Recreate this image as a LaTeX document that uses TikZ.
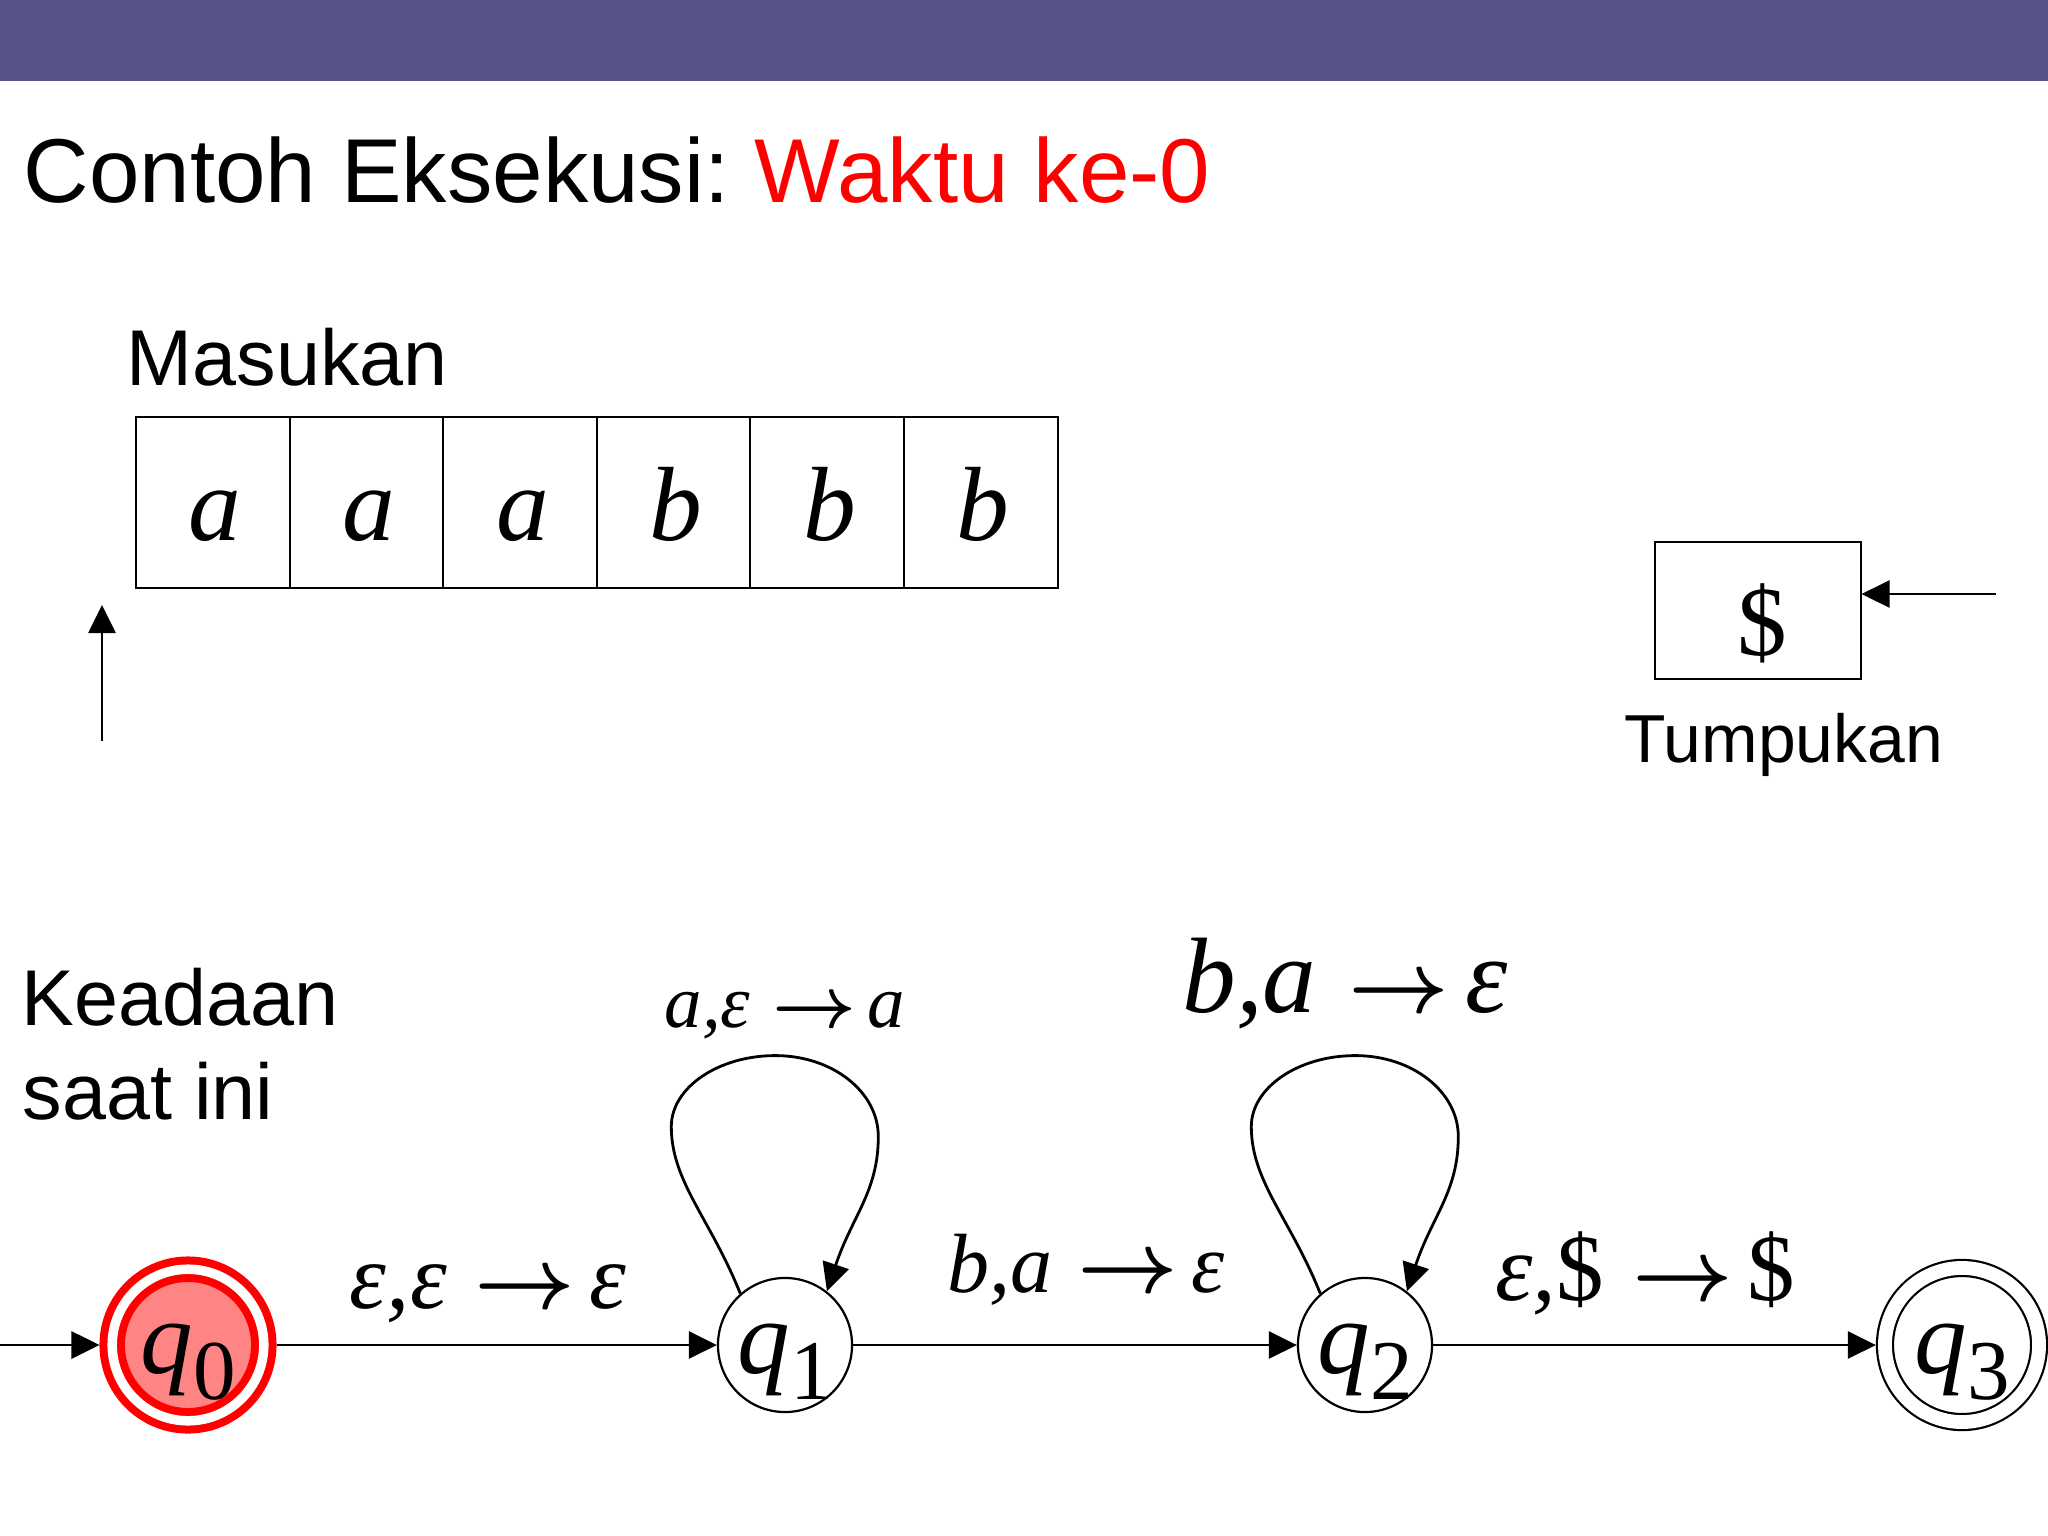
\documentclass[tikz,border=0pt]{standalone}
\usepackage{fontspec}
\setmainfont{Liberation Sans}
\newfontfamily\tnr{Liberation Serif}
\usetikzlibrary{arrows.meta}
\definecolor{headbar}{HTML}{57548A}
\definecolor{titlered}{HTML}{FF0000}
\definecolor{curfill}{HTML}{FF8585}
\newcommand{\fs}[1]{\fontsize{#1}{#1}\selectfont}
\newcommand{\qname}[1]{\raisebox{-0.28cm}[0pt][0pt]{\itshape q\raisebox{-0.26cm}{\fs{24.2pt}\upshape #1}}}
\newcommand{\trans}[3]{#1,#2\hspace{0.3em}{\upshape\boldmath$\rightarrow$}\hspace{0.15em}#3}
\begin{document}
\begin{tikzpicture}[x=0.01cm,y=-0.01cm,>={Triangle[length=0.28cm,width=0.27cm]}]
        \tikzstyle{state}=[circle,draw=black,line width=0.022cm,minimum size=1.34cm,inner sep=0pt,font=\fs{29.9pt}\tnr]
        \tikzstyle{current}=[state,draw=titlered,fill=curfill,line width=0.08cm,double=white,double distance=0.095cm,minimum size=1.515cm,outer sep=0.127cm]
        \tikzstyle{final}=[state,double,double distance=0.138cm,minimum size=1.54cm,outer sep=0.091cm]
        \tikzstyle{cell}=[draw,line width=0.02cm,minimum width=1.536cm,minimum height=1.71cm,inner sep=0pt,text height=0.75cm,text depth=0pt,font=\fs{30pt}\tnr\itshape]
        \tikzstyle{stackbox}=[draw,line width=0.02cm,minimum width=2.05cm,minimum height=1.37cm,inner sep=0pt,text height=0.89cm,text depth=0pt,font=\fs{28.2pt}\tnr]
        \tikzstyle{heading}=[anchor=base west,inner sep=0pt,font=\fs{25.8pt}]
        \tikzstyle{caption}=[anchor=base west,inner sep=0pt,font=\fs{22.5pt}]
        \tikzstyle{edgelabel}=[anchor=base,inner sep=0pt,font=\tnr\itshape]
        \tikzstyle{edge}=[draw,->,line width=0.028cm]
        \useasboundingbox (0,0) rectangle (2048,1536);
        \fill[headbar] (0,0) rectangle (2048,81);

        % judul
        \node [heading] (title) at (23,202) {Contoh Eksekusi:\ \textcolor{titlered}{Waktu ke-0}};

        % pita masukan
        \node [caption] (input) at (126,385) {Masukan};
        \foreach \sym [count=\i] in {a,a,a,b,b,b}
          \node [cell] (cell\i) at ({59.2+153.6*\i},502.5) {\hspace{0.05cm}\sym};
        \coordinate (headfoot) at (102,741);
        \coordinate (headtip) at (102,605);
        \path[edge] (headfoot) -- (headtip);

        % tumpukan
        \node [stackbox] (stack) at (1758,610.5) {\hspace{0.08cm}\$};
        \coordinate (stkptr) at (1996,594);
        \path[edge] (stkptr) -- (stkptr -| stack.east);
        \node [caption,anchor=base] (stacklabel) at (1784,762) {\fs{19.3pt}Tumpukan};

        % keadaan
        \node [caption] (curlabel1) at (21,1025) {Keadaan};
        \node [caption] (curlabel2) at (22,1119) {saat ini};

        \node [current] (q0) at (188,1345) {\qname{0}};
        \node [state] (q1) at (785,1345) {\qname{1}};
        \node [state] (q2) at (1365,1345) {\qname{2}};
        \node [final] (q3) at (1962,1345) {\qname{3}};
        \coordinate (entry) at (0,1345);

        \path[edge] (entry) -- (q0);
        \path[edge] (q0) -- (q1);
        \path[edge] (q1) -- (q2);
        \path[edge] (q2) -- (q3);
        \path[edge] (q1.131) .. controls +(-30,-75) and +(0,55) .. ++(-69,-167) .. controls +(0,-39) and +(-57,0) .. ++(104,-71)
                   .. controls +(57,0) and +(0,-45) .. ++(103,81) .. controls +(0,55) and +(25,-75) .. (q1.52);
        \path[edge] (q2.131) .. controls +(-30,-75) and +(0,55) .. ++(-69,-167) .. controls +(0,-39) and +(-57,0) .. ++(104,-71)
                   .. controls +(57,0) and +(0,-45) .. ++(103,81) .. controls +(0,55) and +(25,-75) .. (q2.52);

        \node [edgelabel] (l01) at (488,1308) {\fs{26.5pt}\trans{ε}{ε}{ε}};
        \node [edgelabel] (l11) at (785,1027) {\fs{21.3pt}\trans{a}{ε}{a}};
        \node [edgelabel] (l12) at (1086,1292) {\fs{23.9pt}\trans{b}{a}{ε}};
        \node [edgelabel] (l22) at (1345,1012) {\fs{30.5pt}\trans{b}{a}{ε}};
        \node [edgelabel] (l23) at (1645,1300) {\fs{27pt}\trans{ε}{\upshape\$}{\upshape\$}};
\end{tikzpicture}
\end{document}
